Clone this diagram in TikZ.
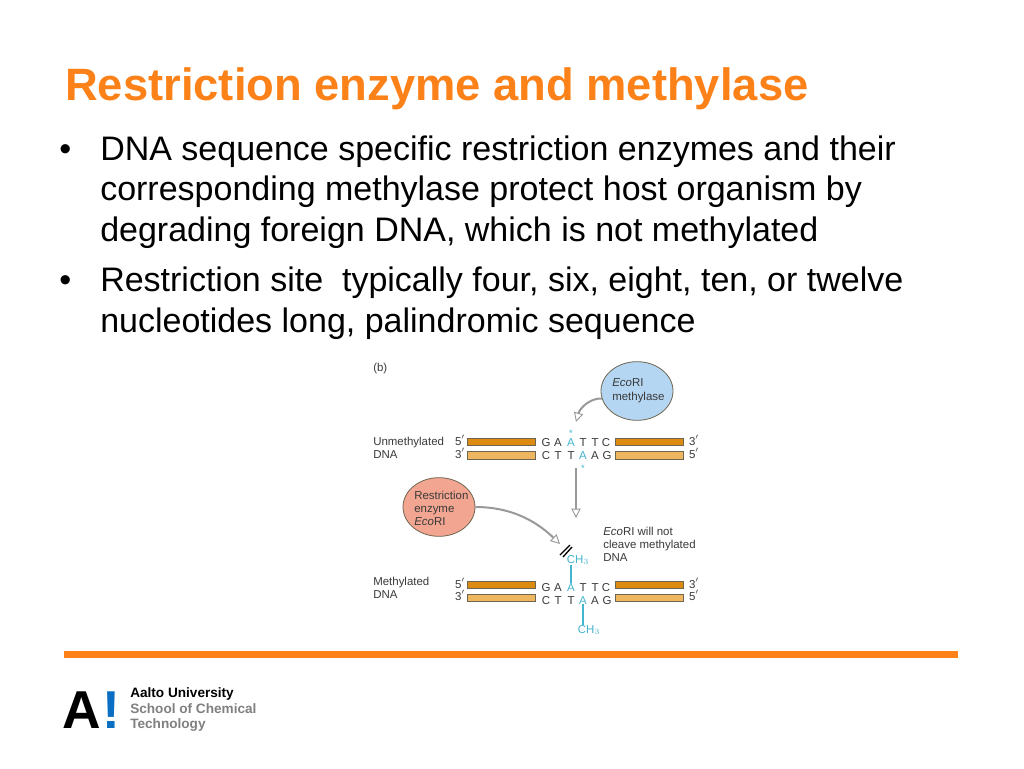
\documentclass[tikz,border=0pt]{standalone}
\usepackage{fontspec}
\setmainfont{Liberation Sans}
\usepackage{tikz}
\usetikzlibrary{arrows.meta,shapes.geometric}
\definecolor{aaltoorange}{HTML}{FB8118}
\definecolor{aaltoblue}{HTML}{0A6FC2}
\definecolor{darkstrand}{HTML}{DD8A10}
\definecolor{lightstrand}{HTML}{EFB660}
\definecolor{strandedge}{HTML}{6E6650}
\definecolor{methylblue}{HTML}{45B5CF}
\definecolor{figtext}{HTML}{3A3A3A}
\definecolor{methylasefill}{HTML}{B4D6F2}
\definecolor{restrictionfill}{HTML}{F2A590}
\tikzset{
  titletext/.style={anchor=base west,inner sep=0pt,text=aaltoorange,font=\fontsize{34}{38}\selectfont\bfseries},
  bodytext/.style={anchor=base west,inner sep=0pt,text=black,font=\fontsize{25.5}{30}\selectfont},
  figlabel/.style={anchor=base west,inner sep=0pt,text=figtext,font=\fontsize{8.6}{10}\selectfont},
  baseletter/.style={anchor=base,inner sep=0pt,text=figtext,font=\fontsize{8.6}{10}\selectfont},
  methylletter/.style={baseletter,text=methylblue},
  starletter/.style={methylletter,font=\fontsize{7}{8}\selectfont},
  darkbar/.style={draw=strandedge,line width=0.6pt,fill=darkstrand,minimum width=51.5pt,minimum height=5.6pt,inner sep=0pt},
  lightbar/.style={darkbar,fill=lightstrand},
  enzyme/.style={ellipse,draw=strandedge,line width=0.6pt,minimum width=54pt,minimum height=44pt,inner sep=0pt},
  hollowarrow/.style={draw=black!40,line width=1.5pt,-{Triangle[open,fill=white,length=7pt,width=7pt,line width=0.7pt]}},
  methylbond/.style={draw=methylblue,line width=1.1pt},
  blockbar/.style={draw=black,line width=1pt},
  schooltext/.style={anchor=base west,inner sep=0pt,font=\fontsize{10.2}{12}\selectfont\bfseries},
  logotext/.style={anchor=base west,inner sep=0pt,font=\fontsize{40}{40}\selectfont\bfseries}
}
\begin{document}
\begin{tikzpicture}[x=0.75pt,y=-0.75pt]
  \path[use as bounding box,fill=white] (0,0) rectangle (1024,768);
  % heading and text
  \draw (65,100) node[titletext] (heading) {Restriction enzyme and methylase};
  \draw (59,160) node[bodytext] (bulletone) {•};
  \draw (100,160) node[bodytext] (lineone) {DNA sequence specific restriction enzymes and their};
  \draw (100,200) node[bodytext] (linetwo) {corresponding methylase protect host organism by};
  \draw (100,241) node[bodytext] (linethree) {degrading foreign DNA, which is not methylated};
  \draw (59,291) node[bodytext] (bullettwo) {•};
  \draw (100,291) node[bodytext] (linefour) {Restriction site\ \ typically four, six, eight, ten, or twelve};
  \draw (100,332) node[bodytext] (linefive) {nucleotides long, palindromic sequence};
  % figure labels
  \draw (373,371) node[figlabel] (panel) {(b)};
  \draw (373,445) node[figlabel] (unmethone) {Unmethylated};
  \draw (373,458) node[figlabel] (unmethtwo) {DNA};
  \draw (373,585) node[figlabel] (methone) {Methylated};
  \draw (373,598) node[figlabel] (methtwo) {DNA};
  \draw (603,535) node[figlabel] (noteone) {\textit{Eco}RI will not};
  \draw (603,548) node[figlabel] (notetwo) {cleave methylated};
  \draw (603,561) node[figlabel] (notethree) {DNA};
  % unmethylated strands
  \draw (501.5,442) node[darkbar] (topleft) {};
  \draw (649.5,442) node[darkbar] (topright) {};
  \draw (501.5,455.5) node[lightbar] (botleft) {};
  \draw (649.5,455.5) node[lightbar] (botright) {};
  \draw (460,445) node[baseletter] (topfive) {5$'$};
  \draw (460,458) node[baseletter] (botthree) {3$'$};
  \draw (694,445) node[baseletter] (topthree) {3$'$};
  \draw (694,458) node[baseletter] (botfive) {5$'$};
  \foreach \x/\name/\base in {546/a/G,558/b/A,583/d/T,595/e/T,606/f/C}
    \draw (\x,446) node[baseletter] (top\name) {\base};
  \draw (571,446) node[methylletter] (topc) {A};
  \foreach \x/\name/\base in {546/a/C,558/b/T,571/c/T,595/e/A,607/f/G}
    \draw (\x,459) node[baseletter] (bot\name) {\base};
  \draw (583,459) node[methylletter] (botd) {A};
  \draw (571,436) node[starletter] (starone) {*};
  \draw (583,471) node[starletter] (startwo) {*};
  % methylated strands
  \draw (501.5,585) node[darkbar] (mtopleft) {};
  \draw (649.5,585) node[darkbar] (mtopright) {};
  \draw (501.5,598) node[lightbar] (mbotleft) {};
  \draw (649.5,598) node[lightbar] (mbotright) {};
  \draw (460,588) node[baseletter] (mtopfive) {5$'$};
  \draw (460,600) node[baseletter] (mbotthree) {3$'$};
  \draw (694,588) node[baseletter] (mtopthree) {3$'$};
  \draw (694,600) node[baseletter] (mbotfive) {5$'$};
  \foreach \x/\name/\base in {546/a/G,558/b/A,583/d/T,595/e/T,606/f/C}
    \draw (\x,591) node[baseletter] (mtop\name) {\base};
  \draw (571,591) node[methylletter] (mtopc) {A};
  \foreach \x/\name/\base in {546/a/C,558/b/T,571/c/T,595/e/A,607/f/G}
    \draw (\x,604) node[baseletter] (mbot\name) {\base};
  \draw (583,604) node[methylletter] (mbotd) {A};
  \draw (578,563) node[methylletter] (chone) {CH$_3$};
  \draw (589,633) node[methylletter] (chtwo) {CH$_3$};
  \draw[methylbond] (chone.south -| mtopc) -- (mtopc.north);
  \draw[methylbond] (mbotd.south) -- (chtwo.north -| mbotd);
  % enzymes and arrows
  \draw (637,391) node[enzyme,fill=methylasefill] (methylase) {};
  \draw (612,386) node[figlabel] (methylaseone) {\textit{Eco}RI};
  \draw (612,400) node[figlabel] (methylasetwo) {methylase};
  \draw (439,507) node[enzyme,fill=restrictionfill] (restriction) {};
  \draw (414,499) node[figlabel] (restrone) {Restriction};
  \draw (414,512) node[figlabel] (restrtwo) {enzyme};
  \draw (414,525) node[figlabel] (restrthree) {\textit{Eco}RI};
  \coordinate (methylasetip) at (576,422);
  \coordinate (arrowstart) at (576,468);
  \coordinate (arrowend) at (576,518);
  \coordinate (enzymetip) at (560,544);
  \draw[hollowarrow] (methylase.192) .. controls (590,398) and (580,408) .. (methylasetip);
  \draw[hollowarrow] (arrowstart) -- (arrowend);
  \draw[hollowarrow] (restriction.east) .. controls (510,507) and (535,520) .. (enzymetip);
  \coordinate (cutaone) at (560,555);
  \coordinate (cutatwo) at (570,545);
  \coordinate (cutbone) at (563,557);
  \coordinate (cutbtwo) at (572,547);
  \draw[blockbar] (cutaone) -- (cutatwo);
  \draw[blockbar] (cutbone) -- (cutbtwo);
  % footer
  \fill[aaltoorange] (64,651) rectangle (958,658);
  \draw (62.5,728) node[logotext] (logoa) {A};
  \draw (102,728) node[logotext,text=aaltoblue] (logomark) {!};
  \draw (130,697.5) node[schooltext] (schoolone) {Aalto University};
  \draw (130,713) node[schooltext,text=black!50] (schooltwo) {School of Chemical};
  \draw (130,728.5) node[schooltext,text=black!50] (schoolthree) {Technology};
\end{tikzpicture}
\end{document}
